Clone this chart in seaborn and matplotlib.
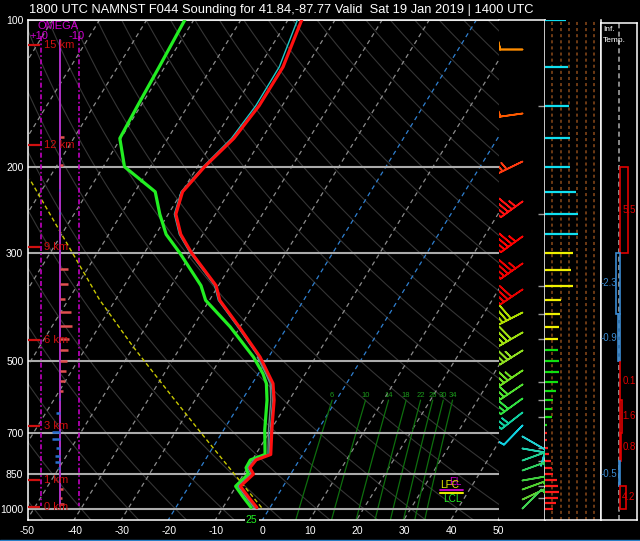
import numpy as np
import pandas as pd
import matplotlib
matplotlib.use("Agg")
import matplotlib.pyplot as plt
import seaborn as sns
from matplotlib.patches import Rectangle
from matplotlib.lines import Line2D
from matplotlib.ticker import FixedLocator, NullFormatter
import matplotlib.transforms as mtransforms

# ---------------- data ----------------
TITLE = "1800 UTC NAMNST F044 Sounding for 41.84,-87.77 Valid  Sat 19 Jan 2019 | 1400 UTC"

PRES = [100, 125, 150, 175, 200, 225, 250, 275, 300, 350, 375, 425, 490, 530, 555, 600,
        690, 775, 795, 825, 850, 900, 945, 995]
TEMP = [-57.1, -54.9, -54.9, -56.0, -58.5, -59.9, -58.4, -54.7, -50.0, -40.5, -37.8, -30.2,
        -21.8, -17.9, -15.6, -13.2, -9.8, -6.8, -9.2, -9.5, -7.9, -9.1, -6.1, -2.8]
DEWP = [-81.9, -81.2, -80.7, -80.2, -75.5, -65.7, -61.8, -57.8, -52.5, -43.7, -40.8, -32.1,
        -23.2, -19.0, -17.0, -14.7, -11.3, -8.0, -10.4, -10.3, -9.0, -10.1, -7.2, -4.0]
TVIRT = [-58.0, -55.7, -55.6, -56.5, -58.8, -60.2, -58.7, -55.0, -50.3, -40.8, -38.1, -30.5,
         -22.1, -18.2, -15.9, -13.5, -10.1, -7.1, -9.5, -9.8, -8.2, -9.4, -6.4, -3.1]
WB_P = [490, 530, 555, 600, 690, 775, 795, 825, 850, 900, 945, 995]
WBULB = [-22.4, -18.4, -16.2, -13.9, -10.5, -7.4, -9.8, -9.9, -8.4, -9.6, -6.6, -3.4]

PARCEL_P = [995, 696, 593, 466, 374, 212]
PARCEL_T = [-1.8, -24.8, -35.0, -50.2, -63.4, -94.0]

P_LABELS = [100, 200, 300, 500, 700, 850, 1000]
X_LABELS = [-50, -40, -30, -20, -10, 0, 10, 20, 30, 40, 50]
MIX_RATIOS = [6, 10, 14, 18, 22, 26, 30, 34]

HGT_KM = [0, 1, 3, 6, 9, 12, 15]
HGT_P = [990.6, 874.9, 676.6, 452.0, 291.8, 180.6, 113.0]

OMEGA_P = [125, 174, 198, 223, 249, 323, 348, 373, 397, 423, 450, 474, 499, 524, 548, 574,
           597, 639, 696, 722, 751, 779, 802, 826, 913, 951, 980]
OMEGA = [0.5, -1.8, -1.4, 0.9, 0.7, -3.9, -3.9, -2.6, -5.4, -6.2, -4.3, -3.9, -3.5, -3.1, -2.1, -1.4,
         0.9, 2.1, 4.3, 4.3, 2.1, 2.6, 2.6, 1.4, -1.4, -0.9, -1.7]

BARB_P = [115, 155, 195, 235, 277, 314, 355, 397, 436, 475, 520, 555, 593, 635, 675,
          710, 752, 796, 833, 872, 912, 955, 997]
BARB_DIR = [270, 262, 244, 234, 234, 235, 236, 243, 240, 238, 236, 236, 234, 232, 224,
            120, 100, 70, 70, 80, 70, 65, 45]
BARB_SPD = [15, 20, 25, 45, 45, 45, 40, 40, 40, 35, 35, 30, 30, 25, 10,
            10, 10, 15, 15, 15, 15, 15, 10]
BARB_COL = ['#ff8c00', '#ff5a00', '#ff3a10', '#ff1010', '#ff0000', '#f00000', '#e80000',
            '#b0e000', '#a0e010', '#90e020', '#70e020', '#50e030', '#30e040', '#10d0a0', '#10d0e0',
            '#20d0d0', '#20d0b0', '#20d090', '#30d060', '#40d040', '#50d030', '#60d030', '#40d050']

BAR_P = [100, 125, 150, 175, 200, 225, 250, 275, 300, 325, 350, 375, 400, 425, 450, 475, 500,
         525, 550, 575, 600, 625, 650, 675, 700, 725, 750, 775, 800, 825, 850, 875, 900, 925,
         950, 975, 1000]
BAR_LEN = [21, 22.7, 23.7, 25, 25, 31, 32.7, 32.7, 28.3, 26, 28.3, 16.3, 15, 14, 12.7, 12.7, 14,
           14, 12.7, 10.7, 7.7, 6.7, 6.7, 2.3, 1.7, 2.3, 3.3, 4.3, 6, 6.7, 7.7, 11.7, 13.3, 14.3,
           13.3, 11, 7.7]
BAR_COL = ['#10dff0'] * 8 + ['#f0f000'] * 7 + ['#10e010'] * 9 + ['#ff1a1a'] * 13

INF_TOP = [200, 300, 400, 500, 600, 700, 800, 900]
INF_BOT = [300, 400, 500, 600, 700, 800, 900, 1000]
INF_VAL = [5.5, -2.3, -0.9, 0.1, 1.6, 0.8, -0.5, 4.2]

# ---------------- style ----------------
sns.set_theme(style="dark")
plt.rcParams.update({
    "font.family": ["Liberation Sans", "DejaVu Sans"],
    "figure.facecolor": "black",
    "axes.facecolor": "black",
    "savefig.facecolor": "black",
    "axes.edgecolor": "white",
    "text.color": "white",
    "xtick.color": "white",
    "ytick.color": "white",
    "axes.grid": False,
})

K = 64.0
P0 = 1050.0
PBOT = 1055.0


def skew(t, p):
    return np.asarray(t, float) + K * np.log10(P0 / np.asarray(p, float))


W, H = 640.0, 541.0


def rect(x0, x1, ytop, ybot):
    return [x0 / W, 1 - ybot / H, (x1 - x0) / W, (ybot - ytop) / H]


fig = plt.figure(figsize=(6.4, 5.41), dpi=100)
ax = fig.add_axes(rect(27.5, 498.5, 19.5, 520))
ax.set_yscale("log")
ax.set_ylim(PBOT, 100)
ax.set_xlim(-50, 50)
axb = fig.add_axes(rect(498.5, 545, 19.5, 520), sharey=ax)
axm = fig.add_axes(rect(545, 601, 19.5, 520), sharey=ax)
axr = fig.add_axes(rect(601, 637, 22.7, 520))
axr.set_yscale("log")
axr.set_ylim(PBOT, 101.5)

for a in (ax, axb, axm, axr):
    a.set_facecolor("black")
    for s in a.spines.values():
        s.set_color("white")
        s.set_linewidth(1.1)

ax.spines["right"].set_visible(False)
axb.spines["left"].set_visible(False)
axm.spines["left"].set_visible(False)
axm.spines["top"].set_visible(False)

# ---------------- background lines ----------------
pp = np.geomspace(100, PBOT, 200)
for th in range(-60, 250, 10):
    t = (th + 273.15) * (pp / 1000.0) ** 0.2857 - 273.15
    ax.plot(skew(t, pp), pp, color="#353535", lw=0.8, zorder=1)

for t0 in range(-170, 60, 10):
    col = "#2f7fcf" if t0 in (-20, 0) else "#8c8c8c"
    ax.plot(skew(np.full_like(pp, t0), pp), pp, color=col, lw=0.9,
            dashes=(3.5, 3), zorder=1.2)

pm = np.geomspace(600, PBOT, 50)
for w in MIX_RATIOS:
    e = w * pm / (622.0 + w)
    lg = np.log(e / 6.112)
    td = 243.5 * lg / (17.67 - lg)
    ax.plot(skew(td, pm), pm, color="#0e6e0e", lw=0.9, zorder=1.3)
    ax.text(skew(td[0], pm[0]), 588, str(w), color="#1b9a1b", fontsize=5.5,
            ha="center", va="center", zorder=1.3)

ax.hlines(P_LABELS, -50, 50, color="#ababab", lw=1.5, zorder=1.5)

# parcel trace
ax.plot(skew(PARCEL_T, PARCEL_P), PARCEL_P, color="#c8c800", lw=1.0, dashes=(3, 2), zorder=2)

# ---------------- omega ----------------
X0 = -43.0
ax.plot([X0, X0], [110, 990], color="#b030c8", lw=1.4, zorder=2)
for xo in (-47.2, -39.0):
    ax.plot([xo, xo], [108, 990], color="#c000c0", lw=1.2, dashes=(3, 1.5, 1, 1.5), zorder=2)
om = np.asarray(OMEGA)
ax.hlines(OMEGA_P, X0, X0 - om * 0.41,
          colors=["#e05050" if v < 0 else "#2a6fd0" for v in om], lw=1.8, zorder=2.2)
ax.text(-47.8, 103.3, "OMEGA", color="#d000d0", fontsize=8, ha="left", va="center")
ax.text(-49.6, 108.3, "+10", color="#d000d0", fontsize=8, ha="left", va="center")
ax.text(-41.4, 108.3, "-10", color="#d000d0", fontsize=8, ha="left", va="center")

# ---------------- heights ----------------
ax.hlines(HGT_P, -50, -47.4, color="#d01010", lw=1.6, zorder=3)
for km, p in zip(HGT_KM, HGT_P):
    ax.text(-46.6, p, f"{km} km", color="#d01010", fontsize=8, ha="left", va="center", zorder=3)

# ---------------- profiles ----------------
sns.lineplot(x=skew(DEWP, PRES), y=PRES, sort=False, estimator=None, color="#22ee22",
             lw=2.3, ax=ax, zorder=4)
sns.lineplot(x=skew(WBULB, WB_P), y=WB_P, sort=False, estimator=None, color="#708888",
             lw=1.0, ax=ax, zorder=4.1)
sns.lineplot(x=skew(TVIRT, PRES), y=PRES, sort=False, estimator=None, color="#20c8c8",
             lw=1.0, ax=ax, zorder=4.2)
sns.lineplot(x=skew(TEMP, PRES), y=PRES, sort=False, estimator=None, color="#ff1010",
             lw=2.3, ax=ax, zorder=4.5)
ax.set_xlabel("")
ax.set_ylabel("")

# parcel level labels
ax.plot([37.6, 42.5], [917, 917], color="#d000d0", lw=1.3, zorder=3)
ax.plot([37.6, 42.5], [929, 929], color="#e8e800", lw=1.5, zorder=3)
ax.text(39.6, 884, "EL", color="#d000d0", fontsize=7.2, ha="left", va="center", zorder=3)
ax.text(37.7, 895, "LFC", color="#e8e800", fontsize=7.2, ha="left", va="center", zorder=3.1)
ax.text(38.2, 955, "LCL", color="#22ee22", fontsize=7.2, ha="left", va="center", zorder=3)

# surface dewpoint in F
ax.text(-2.4, 0.0, "25", color="#22ee22", fontsize=7.5, ha="center", va="center",
        transform=mtransforms.blended_transform_factory(ax.transData, ax.transAxes),
        bbox=dict(facecolor="black", edgecolor="none", pad=1.0), zorder=6, clip_on=False)

# ---------------- ticks ----------------
minor_p = [p for p in range(150, 1000, 50) if p not in P_LABELS]
ax.yaxis.set_major_locator(FixedLocator(P_LABELS))
ax.set_yticklabels([str(p) for p in P_LABELS])
ax.yaxis.set_minor_locator(FixedLocator(minor_p))
ax.yaxis.set_minor_formatter(NullFormatter())
ax.tick_params(axis="y", which="major", length=0, pad=3, labelsize=7.5, colors="white")
ax.tick_params(axis="y", which="minor", direction="in", length=5, width=1, color="#9a9a9a")
ax.set_xticks(X_LABELS)
ax.set_xticklabels([str(x) for x in X_LABELS])
ax.tick_params(axis="x", length=0, pad=4, labelsize=7.5, colors="white")

axb.set_xlim(0, 46.5)
axb.set_xticks([])
axb.tick_params(axis="y", which="both", left=False, labelleft=False)
axb.tick_params(axis="y", which="minor", right=True, direction="in", length=5, width=1,
                color="#9a9a9a")

# ---------------- barbs ----------------
for p, d, s, c in zip(BARB_P, BARB_DIR, BARB_SPD, BARB_COL):
    r = np.deg2rad(d)
    u = -s * np.sin(r)
    v = -s * np.cos(r)
    axb.barbs([23.5], [p], [u], [v], length=6.2, barbcolor=c, flagcolor=c,
              sizes=dict(height=0.6, spacing=0.17, width=0.3), linewidth=1.2, zorder=3)

# ---------------- middle panel ----------------
axm.set_xlim(0, 56)
axm.set_xticks([])
axm.tick_params(axis="y", which="both", left=False, right=False, labelleft=False)
for xv in [7.3, 15.7, 24.0, 32.3, 40.7, 49.0]:
    axm.axvline(xv, color="#8b4a1a", lw=1.1, dashes=(2, 2), zorder=1)
axm.hlines(BAR_P, 0, BAR_LEN, colors=BAR_COL, lw=1.6, zorder=2)

# ---------------- right panel ----------------
axr.set_xlim(0, 36)
axr.set_xticks([])
axr.yaxis.set_major_locator(FixedLocator([]))
axr.yaxis.set_minor_locator(FixedLocator([]))
axr.axvline(18.3, color="#a0a0a0", lw=1.2, dashes=(3, 2), zorder=1)
for top, bot, v in zip(INF_TOP, INF_BOT, INF_VAL):
    col = "#e00000" if v > 0 else "#3a8ad0"
    axr.add_patch(Rectangle((18.6, bot), v * 1.6, top - bot, fill=False, edgecolor=col,
                            lw=1.2, zorder=2))
    pmid = np.sqrt(top * bot)
    if v > 0:
        axr.text(21.2, pmid, f"{v:.1f}", color=col, fontsize=7, ha="left", va="center")
    else:
        axr.text(16.3, pmid, f"{v:.1f}", color=col, fontsize=7, ha="right", va="center")
axr.text(2 / 36, 0.987, "Inf.", color="white", fontsize=6, ha="left", va="center",
         transform=axr.transAxes)
axr.text(2 / 36, 0.964, "Temp.", color="white", fontsize=6, ha="left", va="center",
         transform=axr.transAxes)

# ---------------- title & decorations ----------------
fig.text(29 / W, 1 - 9.5 / H, TITLE, color="white", fontsize=9.3, ha="left", va="center")
fig.add_artist(Line2D([0, 1], [0.6 / H, 0.6 / H], color="#2a80c8", lw=1.0))

fig.savefig("out.png", dpi=100, facecolor="black")
